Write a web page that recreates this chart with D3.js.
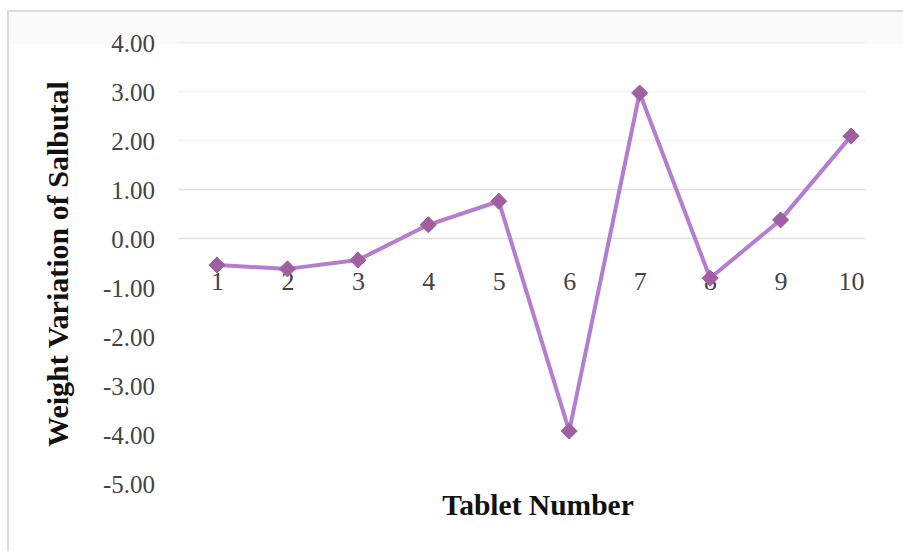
<!DOCTYPE html>
<html>
<head>
<meta charset="utf-8">
<script src="https://cdn.jsdelivr.net/npm/d3@7/dist/d3.min.js"></script>
<style>
  html, body { margin: 0; padding: 0; background: #fff; }
  svg { display: block; }
</style>
</head>
<body>
<svg id="chart" width="903" height="551"></svg>
<script>
// Weight variation of ten Salbutal tablets
const tablets = [1, 2, 3, 4, 5, 6, 7, 8, 9, 10];
const variation = [-0.54, -0.62, -0.44, 0.28, 0.76, -3.93, 2.97, -0.81, 0.38, 2.09];
const yTicks = [4, 3, 2, 1, 0, -1, -2, -3, -4, -5];
const gridTicks = [4, 3, 2, 1, 0];

const svg = d3.select("#chart");
const serif = "'Liberation Serif', 'Times New Roman', serif";

// outer frame
svg.append("path")
  .attr("d", "M8,560 L8,11 L910,11")
  .attr("fill", "none")
  .attr("stroke", "#dcd8e0")
  .attr("stroke-width", 2);
svg.append("rect")
  .attr("x", 9).attr("y", 12).attr("width", 894).attr("height", 32)
  .attr("fill", "#fafafa");

const x = d3.scalePoint().domain(tablets).range([217, 851]);
const y = d3.scaleLinear().domain([-5, 4]).range([483.5, 42.5]);

// horizontal gridlines
svg.append("g").selectAll("line")
  .data(gridTicks)
  .join("line")
  .attr("x1", 178).attr("x2", 866)
  .attr("y1", d => y(d)).attr("y2", d => y(d))
  .attr("stroke", d => d <= 1 ? "#e2e2e2" : "#f3f3f3")
  .attr("stroke-width", 1.5);

// y axis (labels only), plain hyphen for negatives
const yAxis = d3.axisLeft(y)
  .tickValues(yTicks)
  .tickFormat(d => d.toFixed(2))
  .tickSize(0)
  .tickPadding(0);
const gy = svg.append("g").attr("transform", "translate(155,0)").call(yAxis);
gy.select(".domain").remove();
gy.selectAll("text")
  .attr("font-family", serif)
  .attr("font-size", 25)
  .attr("fill", "#444")
  .attr("dy", "0.34em");

// x axis labels sit just below the zero line
const xAxis = d3.axisBottom(x).tickSize(0).tickPadding(0);
const gx = svg.append("g").attr("transform", "translate(0,272)").call(xAxis);
gx.select(".domain").remove();
gx.selectAll("text")
  .attr("font-family", serif)
  .attr("font-size", 26)
  .attr("fill", "#444")
  .attr("dy", "0.71em");

// series line
const data = tablets.map((t, i) => ({ t, v: variation[i] }));
svg.append("path")
  .datum(data)
  .attr("fill", "none")
  .attr("stroke", "#b57ccf")
  .attr("stroke-width", 4)
  .attr("stroke-linejoin", "round")
  .attr("d", d3.line().x(d => x(d.t)).y(d => y(d.v)));

// diamond markers
const diamond = d3.symbol().type(d3.symbolDiamond2).size(165);
svg.append("g").selectAll("path")
  .data(data)
  .join("path")
  .attr("transform", d => `translate(${x(d.t)},${y(d.v)})`)
  .attr("d", diamond)
  .attr("fill", "#a0609f")
  .attr("stroke", "#a0609f")
  .attr("stroke-width", 1);

// axis titles
svg.append("text")
  .attr("x", 538).attr("y", 515)
  .attr("text-anchor", "middle")
  .attr("font-family", serif)
  .attr("font-weight", "bold")
  .attr("font-size", 29.5)
  .attr("fill", "#111")
  .text("Tablet Number");

svg.append("text")
  .attr("transform", "translate(68,264) rotate(-90)")
  .attr("text-anchor", "middle")
  .attr("font-family", serif)
  .attr("font-weight", "bold")
  .attr("font-size", 30)
  .attr("fill", "#111")
  .text("Weight Variation of Salbutal");
</script>
</body>
</html>
